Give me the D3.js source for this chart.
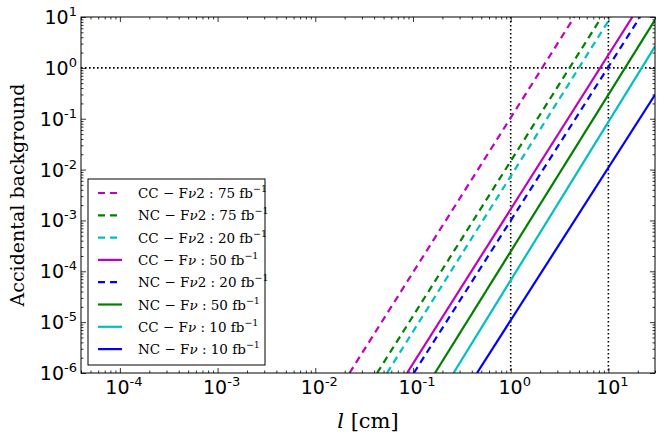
<!DOCTYPE html>
<html>
<head>
<meta charset="utf-8">
<script src="https://cdn.jsdelivr.net/npm/d3@7"></script>
<style>
  body { margin: 0; background: #fff; }
</style>
</head>
<body>
<div></div>
<script>
'use strict';

// Series: each is a straight line in log-log space,
// given by where it enters and leaves the plot
var labels = [
  ["CC", "F\u03BD2", "75"],
  ["NC", "F\u03BD2", "75"],
  ["CC", "F\u03BD2", "20"],
  ["CC", "F\u03BD", "50"],
  ["NC", "F\u03BD2", "20"],
  ["NC", "F\u03BD", "50"],
  ["CC", "F\u03BD", "10"],
  ["NC", "F\u03BD", "10"]
];
var colors = ["#bf00bf", "#008000", "#00bfbf", "#bf00bf", "#0000ff", "#008000", "#00bfbf", "#0000ff"];
var dashed = [true, true, true, false, true, false, false, false];
var lStart = [0.0224, 0.0429, 0.0542, 0.0869, 0.102, 0.168, 0.260, 0.452];
var bgStart = [1e-6, 1e-6, 1e-6, 1e-6, 1e-6, 1e-6, 1e-6, 1e-6];
var lEnd = [4.48, 8.53, 10.6, 17.6, 21.1, 30, 30, 30];
var bgEnd = [10, 10, 10, 10, 10, 8.8, 2.64, 0.295];

var xTickExp = [-4, -3, -2, -1, 0, 1];
var yTickExp = [-6, -5, -4, -3, -2, -1, 0, 1];
var refX = [1, 10];
var refY = [1];

var serif = "'DejaVu Serif', serif";
var svgWidth = 664;
var svgHeight = 435;
var margin = {top: 17, right: 9, bottom: 62, left: 81};
var chartWidth = svgWidth - margin.left - margin.right;
var chartHeight = svgHeight - margin.top - margin.bottom;

var xScale = d3.scaleLog().domain([4e-5, 30]).range([0, chartWidth]);
var yScale = d3.scaleLog().domain([1e-6, 10]).range([chartHeight, 0]);

var svg = d3.select("body").select("div")
  .append("svg")
    .attr("width", svgWidth)
    .attr("height", svgHeight);

var chart = svg.append("g")
    .attr("transform", "translate(" + margin.left + "," + margin.top + ")");

chart.append("clipPath").attr("id", "clip")
  .append("rect").attr("width", chartWidth).attr("height", chartHeight);

// minor tick positions
function minors(scale) {
  var d = scale.domain(), out = [];
  for (var e = -7; e <= 2; e++) {
    for (var m = 2; m <= 9; m++) {
      var v = m * Math.pow(10, e);
      if (v >= d[0] && v <= d[1]) out.push(v);
    }
  }
  return out;
}
var xMajor = xTickExp.map(function(e) { return Math.pow(10, e); });
var yMajor = yTickExp.map(function(e) { return Math.pow(10, e); });

function addTicks(axisFn, scale, values, size, transform) {
  chart.append("g")
      .attr("class", "axis")
      .attr("transform", transform)
    .call(axisFn(scale).tickValues(values).tickSize(size).tickFormat(""))
    .call(function(g) {
      g.select(".domain").remove();
      g.selectAll("line").attr("stroke", "#000").attr("stroke-width", 0.8);
    });
}
// inward ticks on all four sides
addTicks(d3.axisBottom, xScale, xMajor, -5, "translate(0," + chartHeight + ")");
addTicks(d3.axisBottom, xScale, minors(xScale), -2.5, "translate(0," + chartHeight + ")");
addTicks(d3.axisTop, xScale, xMajor, -5, "translate(0,0)");
addTicks(d3.axisTop, xScale, minors(xScale), -2.5, "translate(0,0)");
addTicks(d3.axisLeft, yScale, yMajor, -5, "translate(0,0)");
addTicks(d3.axisLeft, yScale, minors(yScale), -2.5, "translate(0,0)");
addTicks(d3.axisRight, yScale, yMajor, -5, "translate(" + chartWidth + ",0)");
addTicks(d3.axisRight, yScale, minors(yScale), -2.5, "translate(" + chartWidth + ",0)");

// tick labels with superscripts
var xl = chart.append("g").selectAll("text")
  .data(xTickExp)
  .enter().append("text")
    .attr("x", function(d) { return xScale(Math.pow(10, d)) + 4; })
    .attr("y", chartHeight + 21)
    .attr("text-anchor", "middle")
    .attr("font-family", "DejaVu Sans")
    .attr("font-size", 19);
xl.append("tspan").text("10");
xl.append("tspan").attr("font-size", 13).attr("dy", -8).text(function(d) { return d; });

var yl = chart.append("g").selectAll("text")
  .data(yTickExp)
  .enter().append("text")
    .attr("x", -4)
    .attr("y", function(d) { return yScale(Math.pow(10, d)) + 7; })
    .attr("text-anchor", "end")
    .attr("font-family", "DejaVu Sans")
    .attr("font-size", 19);
yl.append("tspan").text("10");
yl.append("tspan").attr("font-size", 13).attr("dy", -8).text(function(d) { return d; });

// reference dotted lines
chart.append("g").selectAll("line")
  .data(refX)
  .enter().append("line")
    .attr("x1", function(d) { return xScale(d); })
    .attr("x2", function(d) { return xScale(d); })
    .attr("y1", 0)
    .attr("y2", chartHeight)
    .attr("stroke", "#000")
    .attr("stroke-width", 1.6)
    .attr("stroke-dasharray", "1.6,2.4");

chart.append("g").selectAll("line")
  .data(refY)
  .enter().append("line")
    .attr("x1", 0)
    .attr("x2", chartWidth)
    .attr("y1", function(d) { return yScale(d); })
    .attr("y2", function(d) { return yScale(d); })
    .attr("stroke", "#000")
    .attr("stroke-width", 1.6)
    .attr("stroke-dasharray", "1.6,2.4");

// the lines
var line = d3.line()
    .x(function(d) { return xScale(d[0]); })
    .y(function(d) { return yScale(d[1]); });

chart.append("g")
    .attr("clip-path", "url(#clip)")
  .selectAll("path")
  .data(labels)
  .enter().append("path")
    .attr("fill", "none")
    .attr("stroke", function(d, i) { return colors[i]; })
    .attr("stroke-width", 2.2)
    .attr("stroke-dasharray", function(d, i) { return dashed[i] ? "7,5" : null; })
    .attr("d", function(d, i) {
      return line([[lStart[i], bgStart[i]], [lEnd[i], bgEnd[i]]]);
    });

// frame
chart.append("rect")
    .attr("width", chartWidth)
    .attr("height", chartHeight)
    .attr("fill", "none")
    .attr("stroke", "#000")
    .attr("stroke-width", 1);

// legend
var legend = chart.append("g").attr("transform", "translate(7,162)");
legend.append("rect")
    .attr("width", 177)
    .attr("height", 186)
    .attr("fill", "#fff")
    .attr("stroke", "#000")
    .attr("stroke-width", 1);

var rows = legend.selectAll("g.row")
  .data(labels)
  .enter().append("g")
    .attr("class", "row")
    .attr("transform", function(d, i) { return "translate(0," + (14 + i * 22.3) + ")"; });

rows.append("line")
    .attr("x1", 10)
    .attr("x2", 34)
    .attr("stroke", function(d, i) { return colors[i]; })
    .attr("stroke-width", 2.2)
    .attr("stroke-dasharray", function(d, i) { return dashed[i] ? "7,5" : null; });

var lt = rows.append("text")
    .attr("x", 50)
    .attr("y", 5)
    .attr("font-family", serif)
    .attr("font-size", 13.5);
lt.append("tspan").text(function(d) { return d[0] + " \u2212 "; });
lt.append("tspan").text(function(d) { return "F"; });
lt.append("tspan").attr("font-style", "italic").text(function(d) { return "\u03BD"; });
lt.append("tspan").text(function(d) { return (d[1].length > 2 ? "2" : "") + " : " + d[2] + " fb"; });
lt.append("tspan").attr("font-size", 9.5).attr("dy", -6).text("\u22121");

// axis titles
var xt = svg.append("text")
    .attr("x", margin.left + chartWidth / 2)
    .attr("y", 428)
    .attr("text-anchor", "middle")
    .attr("font-family", serif)
    .attr("font-size", 21);
xt.append("tspan").attr("font-style", "italic").text("l");
xt.append("tspan").text(" [cm]");

svg.append("text")
    .attr("transform", "translate(24," + (margin.top + chartHeight / 2) + ") rotate(-90)")
    .attr("text-anchor", "middle")
    .attr("font-family", serif)
    .attr("font-size", 19)
    .text("Accidental background");
</script>
</body>
</html>
